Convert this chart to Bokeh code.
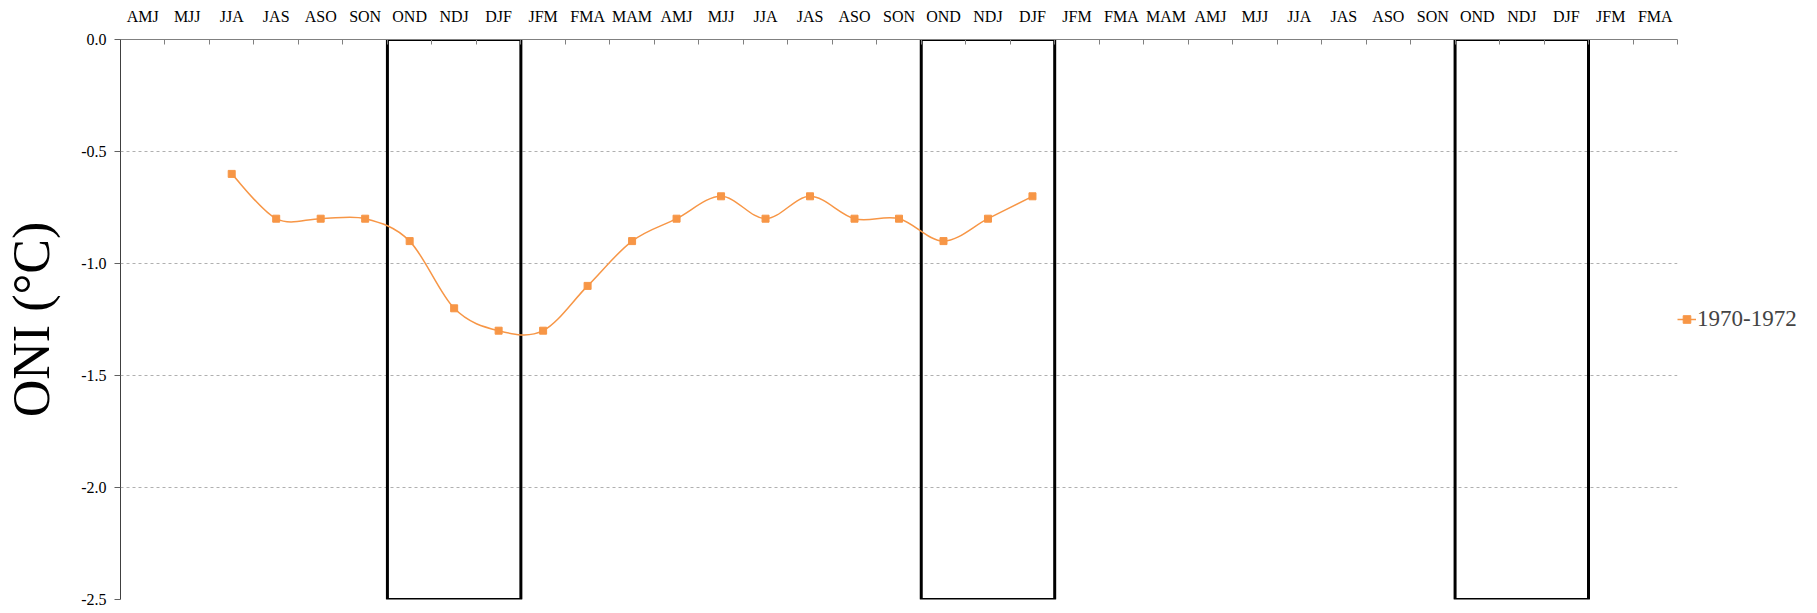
from bokeh.plotting import figure
from bokeh.models import (Range1d, FixedTicker, PrintfTickFormatter, Legend, LegendItem,
                          CustomJSTickFormatter)
from bokeh.embed import file_html
from bokeh.resources import INLINE

# ---- data ----
seasons = ["AMJ", "MJJ", "JJA", "JAS", "ASO", "SON", "OND", "NDJ", "DJF", "JFM", "FMA", "MAM",
           "AMJ", "MJJ", "JJA", "JAS", "ASO", "SON", "OND", "NDJ", "DJF", "JFM", "FMA", "MAM",
           "AMJ", "MJJ", "JJA", "JAS", "ASO", "SON", "OND", "NDJ", "DJF", "JFM", "FMA"]
oni_first_index = 2  # series starts at the first JJA
oni_values = [-0.6, -0.8, -0.8, -0.8, -0.9, -1.2, -1.3, -1.3, -1.1, -0.9,
              -0.8, -0.7, -0.8, -0.7, -0.8, -0.8, -0.9, -0.8, -0.7]
series_label = "1970-1972"
box_start_index = [6, 18, 30]   # OND .. DJF windows
box_len = 3
y_ticks = [0.0, -0.5, -1.0, -1.5, -2.0, -2.5]

ORANGE = "#F79646"
FONT = "Liberation Serif"

n = len(seasons)
xs = [oni_first_index + i + 0.5 for i in range(len(oni_values))]
ys = oni_values

# smoothed curve (Catmull-Rom style bezier, as in spreadsheet "smoothed line")
x0, y0, x1, y1, cx0, cy0, cx1, cy1 = [], [], [], [], [], [], [], []
m = len(xs)
for i in range(m - 1):
    xp, yp = (xs[i - 1], ys[i - 1]) if i > 0 else (xs[i], ys[i])
    xn2, yn2 = (xs[i + 2], ys[i + 2]) if i + 2 < m else (xs[i + 1], ys[i + 1])
    x0.append(xs[i]); y0.append(ys[i])
    x1.append(xs[i + 1]); y1.append(ys[i + 1])
    cx0.append(xs[i] + (xs[i + 1] - xp) / 6.0)
    cy0.append(ys[i] + (ys[i + 1] - yp) / 6.0)
    cx1.append(xs[i + 1] - (xn2 - xs[i]) / 6.0)
    cy1.append(ys[i + 1] - (yn2 - ys[i]) / 6.0)

p = figure(frame_width=1557, frame_height=560,
           x_range=Range1d(0, n), y_range=Range1d(min(y_ticks), max(y_ticks)),
           x_axis_location="above", output_backend="svg", toolbar_location=None,
           min_border_left=120, min_border_top=39, min_border_bottom=12, min_border_right=0)
p.outline_line_color = None
p.background_fill_color = "white"

# boxes
p.quad(left=box_start_index, right=[b + box_len for b in box_start_index],
       bottom=min(y_ticks), top=max(y_ticks), fill_color=None,
       line_color="black", line_width=3)

curve = p.bezier(x0=x0, y0=y0, x1=x1, y1=y1, cx0=cx0, cy0=cy0, cx1=cx1, cy1=cy1,
                 line_color=ORANGE, line_width=1.5)
pts = p.scatter(xs, ys, marker="square", size=7, fill_color=ORANGE, line_color=ORANGE)

# x axis (top)
xa = p.xaxis[0]
xa.ticker = FixedTicker(ticks=[i + 0.5 for i in range(n)], minor_ticks=list(range(n + 1)))
xa.formatter = CustomJSTickFormatter(args=dict(labels=seasons),
                                     code="return labels[Math.floor(tick)];")
xa.major_tick_in = 0
xa.major_tick_out = 0
xa.minor_tick_in = 5
xa.minor_tick_out = 0
xa.minor_tick_line_color = "#808080"
xa.axis_line_color = "#808080"
xa.major_label_text_font = FONT
xa.major_label_text_font_size = "16px"
xa.major_label_text_color = "black"
xa.major_label_standoff = 15

# y axis
ya = p.yaxis[0]
ya.ticker = FixedTicker(ticks=y_ticks, minor_ticks=[])
ya.formatter = PrintfTickFormatter(format="%.1f")
ya.major_tick_in = 0
ya.major_tick_out = 6
ya.major_tick_line_color = "#606060"
ya.axis_line_color = "#404040"
ya.major_label_text_font = FONT
ya.major_label_text_font_size = "16px"
ya.major_label_text_color = "black"
ya.major_label_standoff = 8
ya.axis_label = "ONI (°C)"
ya.axis_label_text_font = FONT
ya.axis_label_text_font_size = "52px"
ya.axis_label_text_font_style = "normal"
ya.axis_label_text_color = "black"
ya.axis_label_standoff = 18

p.xgrid.visible = False
p.ygrid.grid_line_color = "#b0b0b0"
p.ygrid.grid_line_dash = "3 3"
p.ygrid.grid_line_width = 1

legend = Legend(items=[LegendItem(label=series_label, renderers=[curve, pts])],
                location="center_left", border_line_color=None, background_fill_alpha=0,
                label_text_font=FONT, label_text_font_size="23px",
                glyph_width=19, label_standoff=1, margin=0, padding=12)
p.add_layout(legend, "right")

open("out.html", "w").write(file_html(p, INLINE))
